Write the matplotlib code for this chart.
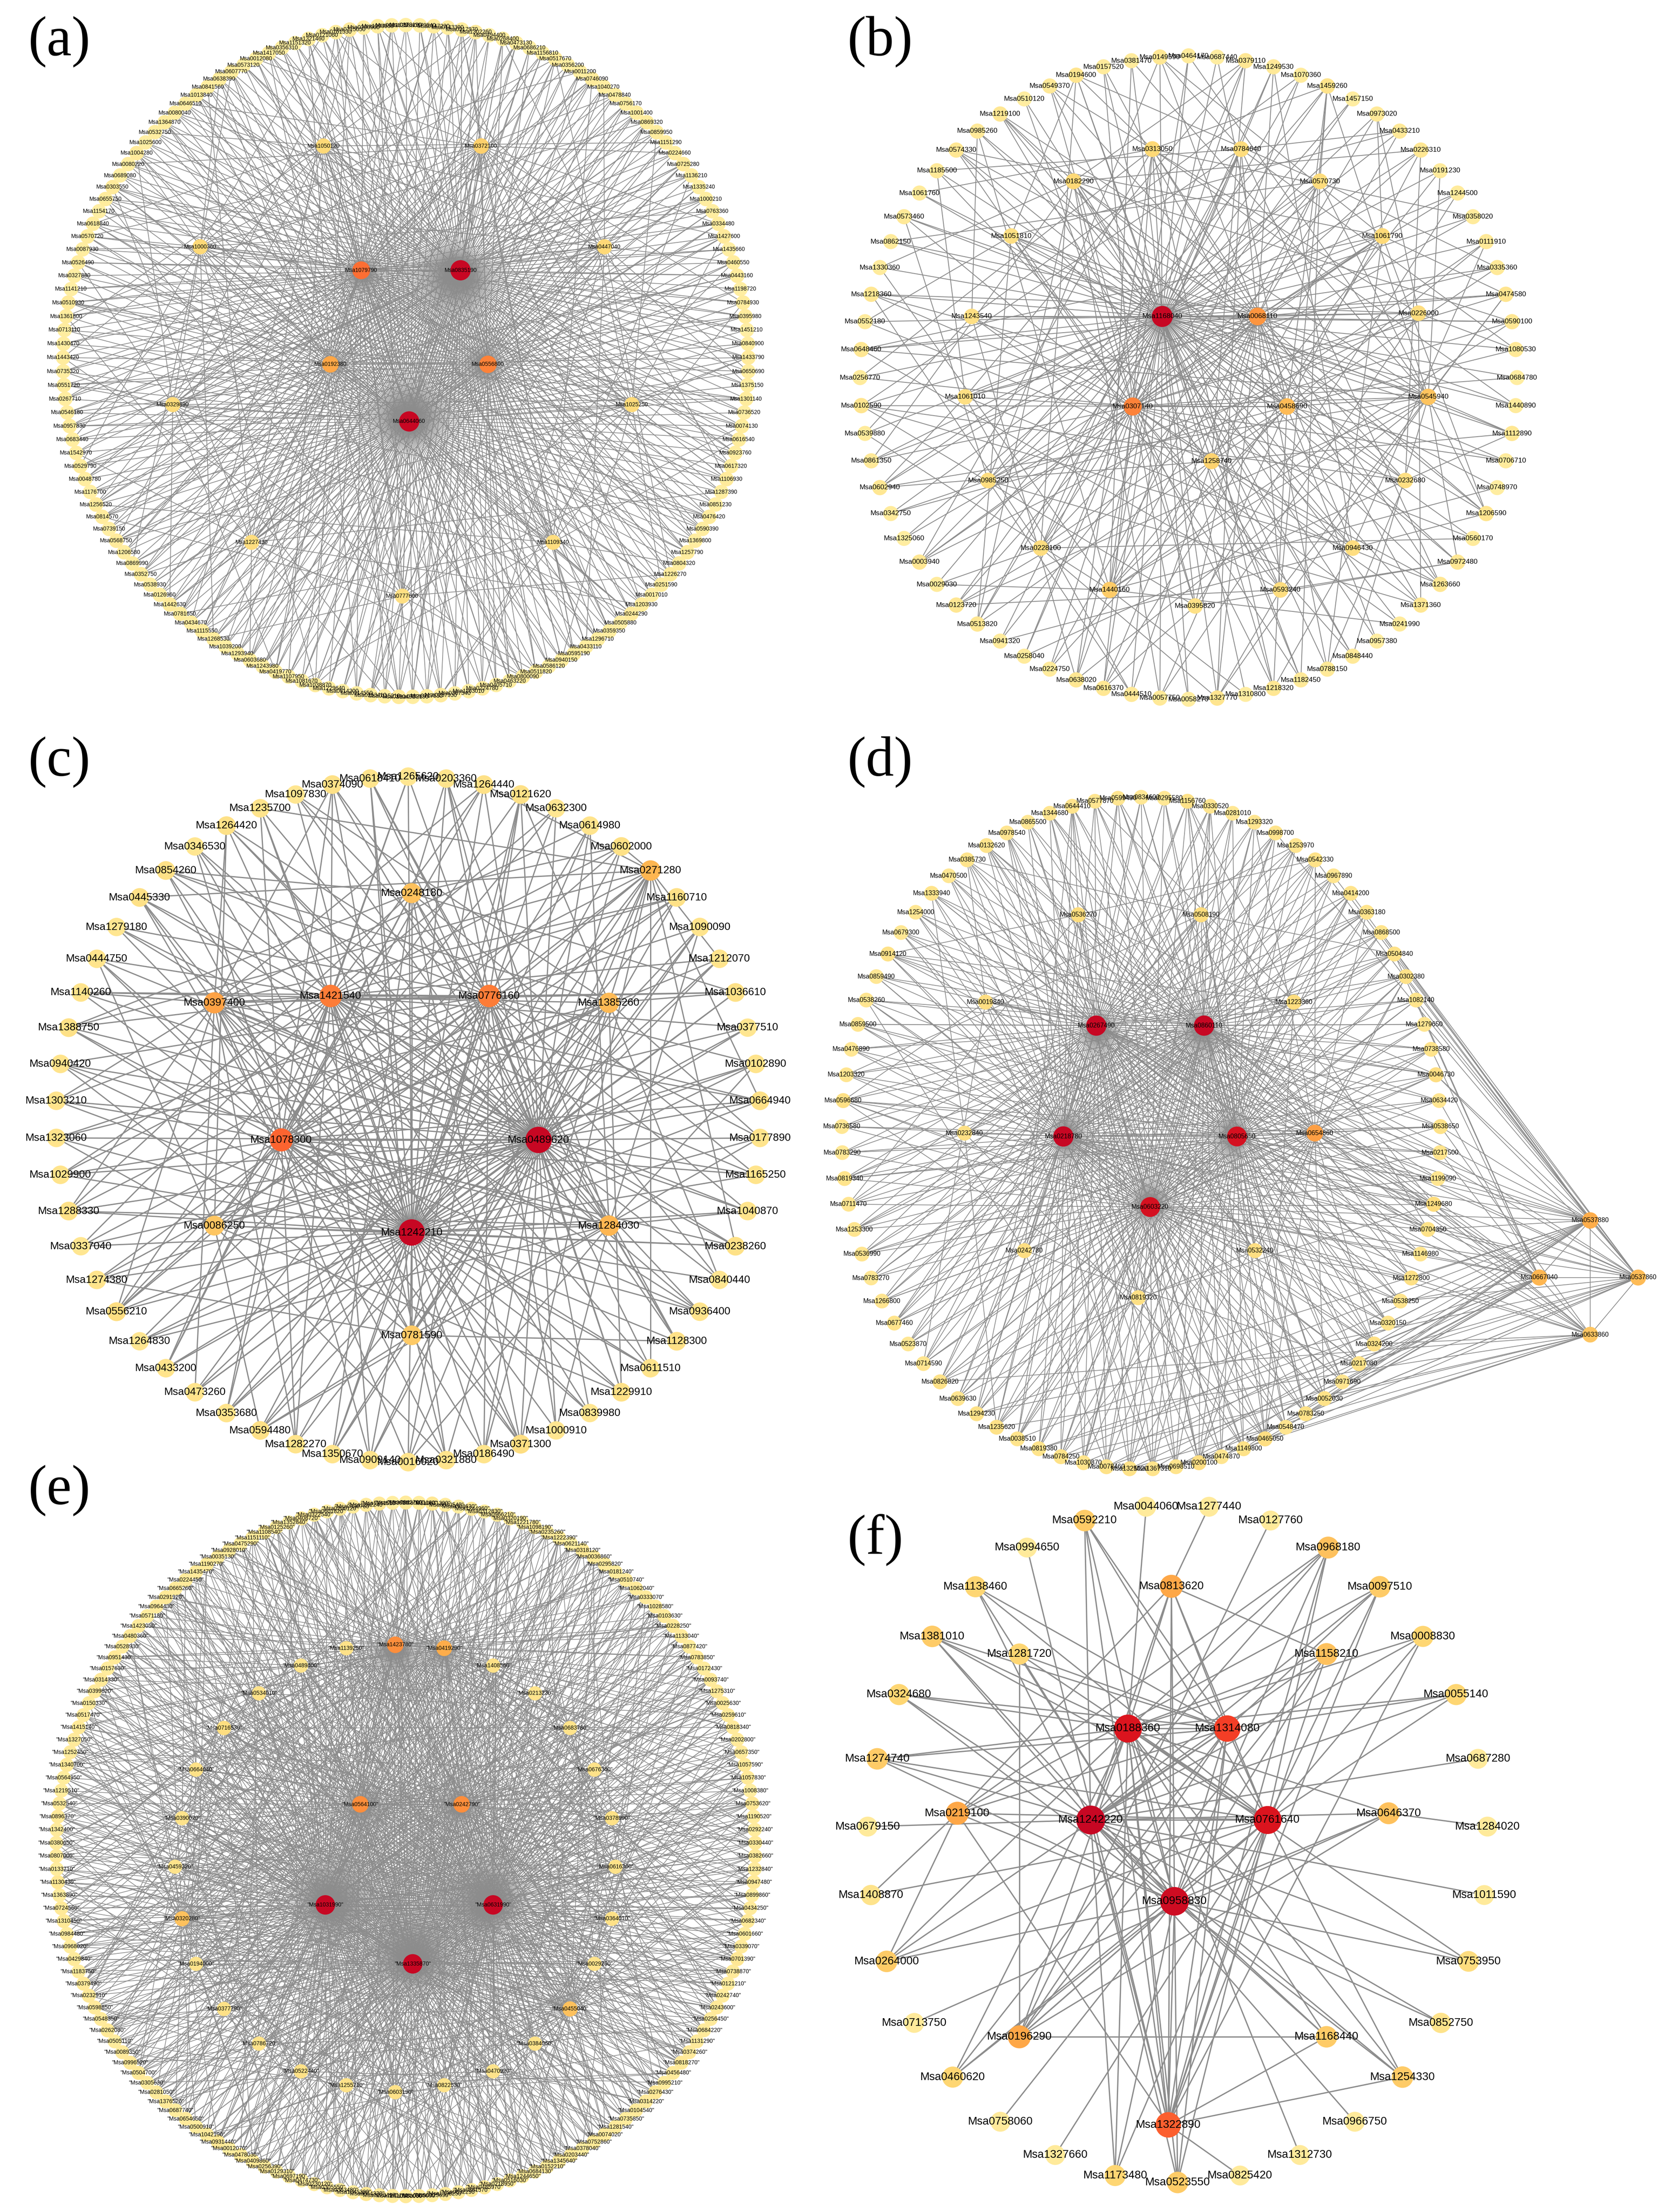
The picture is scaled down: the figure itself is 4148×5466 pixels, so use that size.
import numpy as np
import matplotlib.pyplot as plt
from matplotlib.collections import LineCollection

W, H = 4148, 5466
EDGE = '#8c8c8c'
cmap = plt.get_cmap('YlOrRd')

# ---------------- panel (a) ----------------
a_outer = """Msa0378190 Msa0379540 Msa0147230 Msa0143390 Msa0317970 Msa1302260 Msa0494400 Msa0268400 Msa0473130
Msa0686210 Msa1156810 Msa0517670 Msa0356200 Msa0011200 Msa0746090 Msa1040270 Msa0478840 Msa0756170 Msa1001400
Msa0869320 Msa0859950 Msa1151290 Msa0224660 Msa0725280 Msa1136210 Msa1335240 Msa1000210 Msa0763360 Msa0334480
Msa1427600 Msa1435660 Msa0460550 Msa0443160 Msa1198720 Msa0784930 Msa0395980 Msa1451210 Msa0840900 Msa1433790
Msa0650690 Msa1375150 Msa1301140 Msa0736520 Msa0074130 Msa0616540 Msa0923760 Msa0617320 Msa1106930 Msa1287390
Msa0851230 Msa0476420 Msa0590390 Msa1369800 Msa1257790 Msa0804320 Msa1226270 Msa0251590 Msa0017010 Msa1203930
Msa0244290 Msa0505880 Msa0359350 Msa1296710 Msa0433110 Msa0595190 Msa0940150 Msa0586120 Msa0511820 Msa0800090
Msa0463220 Msa0405710 Msa0224780 Msa1163010 Msa0387340 Msa0287930 Msa0717530 Msa0752190 Msa0290480 Msa0115210
Msa0253410 Msa0314550 Msa0614200 Msa1229640 Msa1038870 Msa1081670 Msa1107950 Msa0419770 Msa1243980 Msa0603680
Msa1293940 Msa1039200 Msa1268530 Msa1115550 Msa0434670 Msa0781650 Msa1442630 Msa0126960 Msa0538930 Msa0352750
Msa0869990 Msa1206580 Msa0568750 Msa0739150 Msa0814570 Msa1256520 Msa1176700 Msa0048780 Msa0529790 Msa1542970
Msa0683440 Msa0957830 Msa0546180 Msa0267710 Msa0551720 Msa0735320 Msa1443420 Msa1430470 Msa0713110 Msa1361800
Msa0510930 Msa1141210 Msa0327880 Msa0526490 Msa0087930 Msa0570720 Msa0618840 Msa1154170 Msa0655750 Msa0303550
Msa0689080 Msa0080220 Msa1004280 Msa1025600 Msa0532750 Msa1364870 Msa0080040 Msa0646510 Msa1013840 Msa0841560
Msa0638390 Msa0607770 Msa0573120 Msa0012080 Msa1417050 Msa0356310 Msa1151320 Msa1321460 Msa0121060 Msa0161530
Msa0715050 Msa0290960 Msa1293960 Msa0081325""".split()
a_inner = ['Msa1050120', 'Msa0372100', 'Msa1000360', 'Msa0447040', 'Msa1079790', 'Msa0835190', 'Msa0192380',
           'Msa0556800', 'Msa0329890', 'Msa1025250', 'Msa0644060', 'Msa1227430', 'Msa1109340', 'Msa0777600']
a_pos = [(-0.24, 0.64), (0.22, 0.64), (-0.60, 0.34), (0.58, 0.34), (-0.13, 0.27), (0.16, 0.27), (-0.22, -0.01),
         (0.24, -0.01), (-0.68, -0.13), (0.66, -0.13), (0.01, -0.18), (-0.45, -0.54), (0.43, -0.54), (-0.01, -0.70)]
# hub, stride, offset
a_hubs = [('Msa0835190', 1, 0), ('Msa0644060', 1, 0), ('Msa1079790', 2, 0), ('Msa0556800', 2, 1),
          ('Msa0192380', 3, 1), ('Msa0372100', 6, 2), ('Msa1050120', 8, 3), ('Msa1000360', 8, 5),
          ('Msa0447040', 8, 1), ('Msa0329890', 9, 4), ('Msa1025250', 9, 7), ('Msa1227430', 10, 2),
          ('Msa1109340', 10, 6), ('Msa0777600', 12, 5)]
a_core = ['Msa0835190', 'Msa0644060', 'Msa1079790', 'Msa0556800', 'Msa0192380']

# ---------------- panel (b) ----------------
b_outer = """Msa0464170 Msa0687440 Msa0379110 Msa1249530 Msa1070360 Msa1459260 Msa1457150 Msa0973020 Msa0433210
Msa0226310 Msa0191230 Msa1244500 Msa0358020 Msa0111910 Msa0335360 Msa0474580 Msa0590100 Msa1080530 Msa0684780
Msa1440890 Msa1112890 Msa0706710 Msa0748970 Msa1206590 Msa0560170 Msa0972480 Msa1263660 Msa1371360 Msa0241990
Msa0957380 Msa0848440 Msa0788150 Msa1182450 Msa1218320 Msa1310800 Msa1327770 Msa0058270 Msa0057750 Msa0444510
Msa0616370 Msa0638020 Msa0224750 Msa0258040 Msa0941320 Msa0513820 Msa0123720 Msa0029030 Msa0003940 Msa1325060
Msa0342750 Msa0602940 Msa0861350 Msa0539880 Msa0102590 Msa0256770 Msa0648460 Msa0552180 Msa1218360 Msa1330360
Msa0862150 Msa0573460 Msa1061760 Msa1185500 Msa0574330 Msa0985260 Msa1219100 Msa0510120 Msa0549370 Msa0194600
Msa0157520 Msa0381470 Msa0149590""".split()
b_inner = ['Msa0313050', 'Msa0784640', 'Msa0182290', 'Msa0570730', 'Msa1051810', 'Msa1061790', 'Msa1243540',
           'Msa1168040', 'Msa0068110', 'Msa0226000', 'Msa1061010', 'Msa0307140', 'Msa0458690', 'Msa0545940',
           'Msa1258740', 'Msa0985250', 'Msa0232680', 'Msa0228100', 'Msa0946430', 'Msa1440160', 'Msa0593240',
           'Msa0395820']
b_pos = [(-0.11, 0.71), (0.16, 0.71), (-0.35, 0.61), (0.40, 0.61), (-0.54, 0.44), (0.59, 0.44), (-0.66, 0.19),
         (-0.08, 0.19), (0.21, 0.19), (0.70, 0.20), (-0.68, -0.06), (-0.17, -0.09), (0.30, -0.09), (0.73, -0.06),
         (0.07, -0.26), (-0.61, -0.32), (0.66, -0.32), (-0.45, -0.53), (0.50, -0.53), (-0.24, -0.66),
         (0.28, -0.66), (0.02, -0.71)]
b_hubs = [('Msa1168040', 1, 0), ('Msa0307140', 3, 0), ('Msa0068110', 4, 1), ('Msa0458690', 4, 3),
          ('Msa0545940', 5, 0), ('Msa1440160', 6, 2), ('Msa1258740', 6, 4), ('Msa0313050', 7, 2),
          ('Msa0182290', 7, 5), ('Msa0784640', 9, 1), ('Msa0570730', 9, 4), ('Msa1061790', 8, 1),
          ('Msa0226000', 10, 3), ('Msa0946430', 10, 7), ('Msa0593240', 10, 5), ('Msa0232680', 11, 2),
          ('Msa0985250', 11, 6), ('Msa0228100', 11, 9), ('Msa1051810', 12, 4), ('Msa1243540', 12, 8),
          ('Msa1061010', 12, 10), ('Msa0395820', 14, 3)]
b_core = ['Msa1168040', 'Msa0307140', 'Msa0068110', 'Msa0458690', 'Msa0545940', 'Msa1440160']

# ---------------- panel (c) ----------------
c_outer = """Msa1265620 Msa0203360 Msa1264440 Msa0121620 Msa0632300 Msa0614980 Msa0602000 Msa0271280 Msa1160710
Msa1090090 Msa1212070 Msa1036610 Msa0377510 Msa0102890 Msa0664940 Msa0177890 Msa1165250 Msa1040870 Msa0238260
Msa0840440 Msa0936400 Msa1128300 Msa0611510 Msa1229910 Msa0839980 Msa1000910 Msa0371300 Msa0186490 Msa0321880
Msa0016020 Msa0909140 Msa1350670 Msa1282270 Msa0594480 Msa0353680 Msa0473260 Msa0433200 Msa1264830 Msa0556210
Msa1274380 Msa0337040 Msa1288330 Msa1029900 Msa1323060 Msa1303210 Msa0940420 Msa1388750 Msa1140260 Msa0444750
Msa1279180 Msa0445330 Msa0854260 Msa0346530 Msa1264420 Msa1235700 Msa1097830 Msa0374090 Msa0618410""".split()
c_inner = ['Msa0248180', 'Msa1421540', 'Msa0776160', 'Msa0397400', 'Msa1385260', 'Msa1078300', 'Msa0489620',
           'Msa0086250', 'Msa1242210', 'Msa1284030', 'Msa0781590']
c_pos = [(0.01, 0.66), (-0.22, 0.36), (0.23, 0.36), (-0.55, 0.34), (0.57, 0.34), (-0.36, -0.06), (0.37, -0.06),
         (-0.55, -0.31), (0.01, -0.33), (0.57, -0.31), (0.01, -0.63)]
c_hubs = [('Msa0489620', 1, 0), ('Msa1242210', 1, 0), ('Msa1078300', 2, 0), ('Msa0776160', 2, 1),
          ('Msa1421540', 2, 0), ('Msa0397400', 3, 1), ('Msa0271280', 4, 2), ('Msa1385260', 4, 1),
          ('Msa1284030', 4, 3), ('Msa0086250', 5, 2), ('Msa0248180', 5, 4), ('Msa0781590', 6, 3)]
c_core = ['Msa0489620', 'Msa1242210', 'Msa1078300', 'Msa0776160', 'Msa1421540', 'Msa0397400']

# ---------------- panel (d) ----------------
d_outer = """Msa0834600 Msa0295580 Msa1156760 Msa0330520 Msa0281010 Msa1293320 Msa0998700 Msa1253970 Msa0542330
Msa0967890 Msa0414200 Msa0363180 Msa0868500 Msa0504840 Msa0302380 Msa1082140 Msa1279650 Msa0738580 Msa0046730
Msa0634420 Msa0538650 Msa0217500 Msa1199090 Msa1249680 Msa0704350 Msa1146980 Msa1272800 Msa0538250 Msa0320150
Msa0324200 Msa0217080 Msa0971690 Msa0052030 Msa0783250 Msa0548470 Msa0465050 Msa1149800 Msa0474870 Msa0200100
Msa0698510 Msa1367310 Msa1325020 Msa0078460 Msa1030870 Msa0784250 Msa0819380 Msa0038510 Msa1235620 Msa1294230
Msa0639630 Msa0826820 Msa0714590 Msa0523870 Msa0677460 Msa1266800 Msa0783270 Msa0536990 Msa1253300 Msa0711470
Msa0819340 Msa0783290 Msa0736580 Msa0596680 Msa1203320 Msa0476890 Msa0859500 Msa0538260 Msa0859490 Msa0914120
Msa0679300 Msa1254000 Msa1333940 Msa0470500 Msa0385730 Msa0132620 Msa0978540 Msa0865500 Msa1344680 Msa0644410
Msa0577870 Msa0599490""".split()
d_inner = ['Msa0267490', 'Msa0860110', 'Msa0218780', 'Msa0805650', 'Msa0603220', 'Msa0654860', 'Msa0536270',
           'Msa0508190', 'Msa0019840', 'Msa1223360', 'Msa0232840', 'Msa0242780', 'Msa0532240', 'Msa0819320',
           'Msa0537880', 'Msa0667040', 'Msa0537860', 'Msa0633860']
d_pos = [(-0.15, 0.32), (0.21, 0.32), (-0.26, -0.01), (0.32, -0.01), (0.03, -0.22), (0.58, 0.0), (-0.21, 0.65),
         (0.20, 0.65), (-0.52, 0.39), (0.51, 0.39), (-0.59, 0.0), (-0.39, -0.35), (0.38, -0.35), (-0.01, -0.49),
         (1.50, -0.26), (1.33, -0.43), (1.66, -0.43), (1.50, -0.60)]
# hub, stride, offset, first, last outer index
d_hubs = [('Msa0267490', 1, 0), ('Msa0860110', 1, 0), ('Msa0218780', 1, 0), ('Msa0805650', 1, 0),
          ('Msa0603220', 1, 0), ('Msa0654860', 3, 1), ('Msa0536270', 10, 2), ('Msa0508190', 10, 7),
          ('Msa0019840', 11, 4), ('Msa1223360', 11, 9), ('Msa0232840', 12, 1), ('Msa0242780', 12, 6),
          ('Msa0532240', 12, 10), ('Msa0819320', 13, 3),
          ('Msa0537880', 2, 0, 8, 48), ('Msa0667040', 2, 1, 12, 46), ('Msa0537860', 3, 0, 6, 50),
          ('Msa0633860', 3, 1, 18, 52)]
d_core = ['Msa0267490', 'Msa0860110', 'Msa0218780', 'Msa0805650', 'Msa0603220', 'Msa0654860',
          'Msa0537880', 'Msa0667040', 'Msa0537860', 'Msa0633860']

# ---------------- panel (e) ----------------
e_outer = """Msa0942790 Msa0031160 Msa0831390 Msa0930540 Msa0308630 Msa1244960 Msa0312830 Msa0966210 Msa0320190
Msa1221780 Msa1098190 Msa0235260 Msa1222390 Msa0621140 Msa0318120 Msa0036860 Msa0295820 Msa0181240 Msa0510740
Msa1062040 Msa0333070 Msa1028580 Msa0103630 Msa0228250 Msa1133040 Msa0877420 Msa0783850 Msa0172430 Msa0093740
Msa1275310 Msa0025630 Msa0259610 Msa0818340 Msa0202800 Msa0657350 Msa1057590 Msa1057830 Msa1008380 Msa0753620
Msa1190520 Msa0292240 Msa0330440 Msa0382660 Msa1232840 Msa0947480 Msa0899860 Msa0434250 Msa0682340 Msa0601660
Msa0339070 Msa0701390 Msa0738870 Msa0121210 Msa0242740 Msa0243600 Msa0256450 Msa0684220 Msa1131290 Msa0374260
Msa0818270 Msa0456480 Msa0995210 Msa0276430 Msa0314220 Msa0104540 Msa0735850 Msa1281540 Msa0074020 Msa0752860
Msa0378040 Msa0203440 Msa1345640 Msa0152210 Msa0684130 Msa1244650 Msa0516030 Msa0218950 Msa0485970 Msa0861570
Msa0832290 Msa1308250 Msa0325690 Msa0365090 Msa0980060 Msa1241100 Msa0220497 Msa0654330 Msa1345380 Msa0363480
Msa0305550 Msa0230120 Msa0474730 Msa0697190 Msa0129310 Msa0256390 Msa0409860 Msa0478030 Msa0012070 Msa0931440
Msa1042190 Msa0500910 Msa0654650 Msa0687740 Msa1376520 Msa0281050 Msa0305630 Msa0504700 Msa0996520 Msa0089350
Msa0505110 Msa0262080 Msa0548350 Msa0598850 Msa0232910 Msa0379490 Msa1183750 Msa0429840 Msa0968020 Msa0984480
Msa1310450 Msa0724560 Msa1363890 Msa1130430 Msa0133710 Msa0807000 Msa0380650 Msa1342400 Msa0896370 Msa0532540
Msa1219510 Msa0564950 Msa1340700 Msa1252450 Msa1327050 Msa1415140 Msa0517470 Msa0150330 Msa0399820 Msa0314330
Msa0157630 Msa0951430 Msa0528930 Msa0480360 Msa1423050 Msa0571180 Msa0964430 Msa0291920 Msa0665260 Msa0224450
Msa1435470 Msa1190270 Msa0035130 Msa0928010 Msa0475290 Msa1151110 Msa1108540 Msa0125260 Msa1352840 Msa0408720
Msa0322540 Msa0601820 Msa0200120 Msa0330760 Msa1282240 Msa1341510 Msa0683920""".split()
e_inner = ['Msa1423780', 'Msa0419290', 'Msa1139250', 'Msa1408560', 'Msa0489400', 'Msa0534010', 'Msa0213230',
           'Msa0716530', 'Msa0683780', 'Msa0664040', 'Msa0676360', 'Msa0564100', 'Msa0242790', 'Msa0390020',
           'Msa0378990', 'Msa0459320', 'Msa0616300', 'Msa1031990', 'Msa0631990', 'Msa0320280', 'Msa0364010',
           'Msa1335870', 'Msa0194000', 'Msa0029250', 'Msa0377790', 'Msa0455040', 'Msa0786720', 'Msa0384060',
           'Msa0522440', 'Msa0470920', 'Msa1255710', 'Msa0603190', 'Msa0822530']
e_pos = [(-0.03, 0.59), (0.11, 0.58), (-0.17, 0.58), (0.25, 0.53), (-0.30, 0.53), (-0.42, 0.45), (0.37, 0.45),
         (-0.52, 0.35), (0.47, 0.35), (-0.60, 0.23), (0.54, 0.23), (-0.13, 0.13), (0.16, 0.13), (-0.64, 0.09),
         (0.59, 0.09), (-0.66, -0.05), (0.60, -0.05), (-0.23, -0.16), (0.25, -0.16), (-0.64, -0.20),
         (0.59, -0.20), (0.02, -0.33), (-0.60, -0.33), (0.54, -0.33), (-0.52, -0.46), (0.47, -0.46),
         (-0.42, -0.56), (0.37, -0.56), (-0.30, -0.64), (0.25, -0.64), (-0.17, -0.68), (-0.03, -0.70),
         (0.11, -0.68)]
e_hubs = [('Msa0631990', 1, 0), ('Msa1335870', 1, 0), ('Msa1031990', 1, 0), ('Msa1423780', 2, 0),
          ('Msa0564100', 2, 1), ('Msa0242790', 2, 0), ('Msa0419290', 3, 1), ('Msa0320280', 4, 2),
          ('Msa0455040', 4, 1), ('Msa1139250', 12, 1), ('Msa1408560', 12, 5), ('Msa0489400', 13, 3),
          ('Msa0534010', 13, 8), ('Msa0213230', 14, 2), ('Msa0716530', 9, 4), ('Msa0683780', 14, 9),
          ('Msa0664040', 12, 7), ('Msa0676360', 13, 11), ('Msa0390020', 14, 6), ('Msa0378990', 12, 10),
          ('Msa0459320', 14, 12), ('Msa0616300', 13, 6), ('Msa0364010', 12, 3), ('Msa0194000', 14, 4),
          ('Msa0029250', 13, 1), ('Msa0377790', 12, 9), ('Msa0786720', 14, 0), ('Msa0384060', 13, 10),
          ('Msa0522440', 12, 11), ('Msa0470920', 14, 7), ('Msa1255710', 13, 5), ('Msa0603190', 12, 0),
          ('Msa0822530', 14, 13)]
e_core = ['Msa0631990', 'Msa1335870', 'Msa1031990', 'Msa1423780', 'Msa0564100', 'Msa0242790', 'Msa0419290']

# ---------------- panel (f) ----------------
f_outer = ['Msa0044060', 'Msa1277440', 'Msa0127760', 'Msa0968180', 'Msa0097510', 'Msa0008830', 'Msa0055140',
           'Msa0687280', 'Msa1284020', 'Msa1011590', 'Msa0753950', 'Msa0852750', 'Msa1254330', 'Msa0966750',
           'Msa1312730', 'Msa0825420', 'Msa0523550', 'Msa1173480', 'Msa1327660', 'Msa0758060', 'Msa0460620',
           'Msa0713750', 'Msa0264000', 'Msa1408870', 'Msa0679150', 'Msa1274740', 'Msa0324680', 'Msa1381010',
           'Msa1138460', 'Msa0994650', 'Msa0592210']
f_inner = ['Msa0813620', 'Msa0188360', 'Msa1314080', 'Msa1242220', 'Msa0761640', 'Msa0958830', 'Msa1281720',
           'Msa1158210', 'Msa0219100', 'Msa0646370', 'Msa0196290', 'Msa1168440', 'Msa1322890']
f_pos = [(-0.02, 0.76), (-0.16, 0.34), (0.16, 0.34), (-0.28, 0.07), (0.29, 0.07), (-0.01, -0.17), (-0.51, 0.56),
         (0.48, 0.56), (-0.71, 0.09), (0.68, 0.09), (-0.51, -0.57), (0.48, -0.57), (-0.03, -0.83)]
f_links = {
    'Msa0044060': ['Msa0188360'],
    'Msa1277440': ['Msa0813620'],
    'Msa0127760': ['Msa0196290'],
    'Msa0968180': ['Msa0188360', 'Msa1242220', 'Msa0958830', 'Msa0761640', 'Msa1322890', 'Msa0219100'],
    'Msa0097510': ['Msa1242220', 'Msa0761640', 'Msa1314080', 'Msa1322890', 'Msa0219100'],
    'Msa0008830': ['Msa0188360', 'Msa1242220', 'Msa0761640', 'Msa1322890'],
    'Msa0055140': ['Msa0188360', 'Msa1314080', 'Msa1242220', 'Msa0761640'],
    'Msa0687280': ['Msa1242220'],
    'Msa1284020': ['Msa0646370'],
    'Msa1011590': ['Msa1242220'],
    'Msa0753950': ['Msa1242220', 'Msa0188360', 'Msa0958830'],
    'Msa0852750': ['Msa1242220', 'Msa0958830'],
    'Msa1254330': ['Msa1242220', 'Msa0958830', 'Msa0188360', 'Msa1322890', 'Msa0761640'],
    'Msa0966750': ['Msa1242220'],
    'Msa1312730': ['Msa0188360'],
    'Msa0825420': ['Msa1322890'],
    'Msa0523550': ['Msa1242220', 'Msa0761640', 'Msa1314080', 'Msa0958830', 'Msa0188360'],
    'Msa1173480': ['Msa1242220', 'Msa0188360', 'Msa0761640', 'Msa0958830'],
    'Msa1327660': ['Msa0761640'],
    'Msa0758060': ['Msa0958830'],
    'Msa0460620': ['Msa0188360', 'Msa0958830', 'Msa1314080', 'Msa0761640'],
    'Msa0713750': ['Msa0646370'],
    'Msa0264000': ['Msa0188360', 'Msa1314080', 'Msa0958830', 'Msa0761640', 'Msa0219100'],
    'Msa1408870': ['Msa0761640', 'Msa0219100'],
    'Msa0679150': ['Msa1242220'],
    'Msa1274740': ['Msa0188360', 'Msa1314080', 'Msa1242220', 'Msa0958830', 'Msa0761640'],
    'Msa0324680': ['Msa0188360', 'Msa1314080', 'Msa0958830', 'Msa1242220'],
    'Msa1381010': ['Msa0188360', 'Msa1314080', 'Msa0958830', 'Msa0761640', 'Msa1242220'],
    'Msa1138460': ['Msa1314080', 'Msa0958830', 'Msa0761640', 'Msa1242220'],
    'Msa0994650': ['Msa1322890'],
    'Msa0592210': ['Msa1314080', 'Msa0761640', 'Msa0958830', 'Msa1242220', 'Msa1322890'],
    'Msa0813620': ['Msa0188360', 'Msa1314080', 'Msa1242220', 'Msa0761640', 'Msa0958830', 'Msa1322890',
                   'Msa0219100', 'Msa1158210'],
    'Msa1281720': ['Msa1314080', 'Msa0761640', 'Msa0958830', 'Msa0196290'],
    'Msa1158210': ['Msa0188360', 'Msa1242220', 'Msa0958830', 'Msa1322890', 'Msa0196290'],
    'Msa0219100': ['Msa0761640', 'Msa1314080', 'Msa0958830', 'Msa1322890'],
    'Msa0646370': ['Msa0188360', 'Msa1242220', 'Msa0958830', 'Msa0196290'],
    'Msa0196290': ['Msa0188360', 'Msa1314080', 'Msa0761640', 'Msa0958830', 'Msa1168440'],
    'Msa1168440': ['Msa0188360', 'Msa1242220', 'Msa0958830', 'Msa1322890'],
    'Msa1322890': ['Msa0188360', 'Msa1314080', 'Msa1242220', 'Msa0761640', 'Msa0958830'],
    'Msa0188360': ['Msa1314080', 'Msa1242220', 'Msa0761640', 'Msa0958830'],
    'Msa1314080': ['Msa1242220', 'Msa0761640', 'Msa0958830'],
    'Msa1242220': ['Msa0761640', 'Msa0958830'],
    'Msa0761640': ['Msa0958830'],
}


def hub_edges(outer, hubs, core, inner):
    edges = []
    n = len(outer)
    for h in hubs:
        name, stride, off = h[0], h[1], h[2]
        lo, hi = (h[3], h[4]) if len(h) > 3 else (0, n - 1)
        for i in range(lo, hi + 1):
            if (i + off) % stride == 0 and outer[i] != name:
                edges.append((name, outer[i]))
    for i, u in enumerate(core):
        for v in core[i + 1:]:
            edges.append((u, v))
    for u in inner:
        if u not in core:
            for v in core[:3]:
                edges.append((u, v))
    return edges


def draw_panel(ax, cx, cy, rx, ry, outer, inner, pos, edges, fs, base, grow, lw,
               quote=False, start=90.0):
    xy = {}
    n = len(outer)
    for i, name in enumerate(outer):
        t = np.radians(start - 360.0 * i / n)
        xy[name] = (cx + rx * np.cos(t), cy - ry * np.sin(t))
    for name, (nx, ny) in zip(inner, pos):
        xy[name] = (cx + rx * nx, cy - ry * ny)
    deg = {k: 0 for k in xy}
    for u, v in edges:
        deg[u] += 1
        deg[v] += 1
    ax.add_collection(LineCollection([[xy[u], xy[v]] for u, v in edges],
                                     colors=EDGE, linewidths=lw, zorder=1))
    names = list(xy)
    dmax = max(deg.values())
    frac = np.array([deg[k] / dmax for k in names])
    pts = np.array([xy[k] for k in names])
    ax.scatter(pts[:, 0], pts[:, 1], s=base * (1 + grow * frac),
               c=cmap(0.08 + 0.76 * frac ** 0.75), linewidths=0, zorder=2)
    for k in names:
        lab = '"%s"' % k if quote else k
        ax.text(xy[k][0], xy[k][1], lab, fontsize=fs, ha='center', va='center',
                family=['Liberation Sans', 'DejaVu Sans'], zorder=3)


fig = plt.figure(figsize=(W / 100, H / 100), dpi=100)
ax = fig.add_axes([0, 0, 1, 1])
ax.set_xlim(0, W)
ax.set_ylim(H, 0)
ax.axis('off')

draw_panel(ax, 1003, 892, 847, 830, a_outer, a_inner, a_pos,
           hub_edges(a_outer, a_hubs, a_core, a_inner), 10, 650, 1.0, 1.3)
draw_panel(ax, 2938, 933, 812, 795, b_outer, b_inner, b_pos,
           hub_edges(b_outer, b_hubs, b_core, b_inner), 12.5, 700, 1.0, 1.5)
draw_panel(ax, 1009, 2766, 871, 847, c_outer, c_inner, c_pos,
           hub_edges(c_outer, c_hubs, c_core, c_inner), 19, 1000, 1.2, 2.2)
draw_panel(ax, 2821, 2800, 740, 830, d_outer, d_inner, d_pos,
           hub_edges(d_outer, d_hubs, d_core, d_inner), 11.5, 650, 1.0, 1.3)
draw_panel(ax, 1003, 4570, 864, 857, e_outer, e_inner, e_pos,
           hub_edges(e_outer, e_hubs, e_core, e_inner), 10, 600, 1.0, 1.2, quote=True)
f_edges = [(u, v) for u, vs in f_links.items() for v in vs]
draw_panel(ax, 2911, 4556, 767, 837, f_outer, f_inner, f_pos, f_edges,
           20, 1200, 1.2, 2.3, start=90 + 180.0 / len(f_outer))

for lab, x, y in [('(a)', 70, 40), ('(b)', 2095, 40), ('(c)', 70, 1820),
                  ('(d)', 2095, 1820), ('(e)', 70, 3620), ('(f)', 2095, 3740)]:
    ax.text(x, y, lab, fontsize=100, ha='left', va='top', family='Liberation Serif')

fig.savefig('out.png', dpi=100, facecolor='white')
